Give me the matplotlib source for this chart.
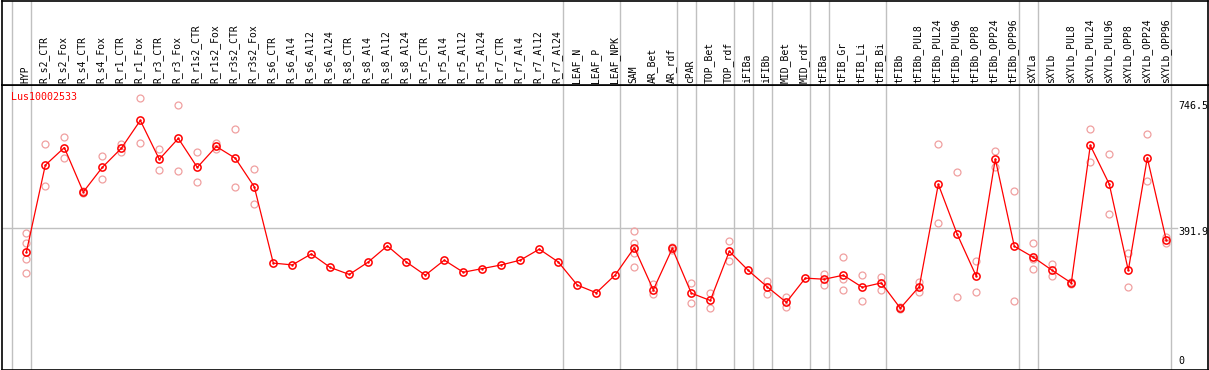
import matplotlib
matplotlib.use("Agg")
import matplotlib.pyplot as plt
import matplotlib.transforms as mtransforms

# column labels
samples = ["HYP", "R_s2_CTR", "R_s2_Fox", "R_s4_CTR", "R_s4_Fox", "R_r1_CTR", "R_r1_Fox",
           "R_r3_CTR", "R_r3_Fox", "R_r1s2_CTR", "R_r1s2_Fox", "R_r3s2_CTR", "R_r3s2_Fox",
           "R_s6_CTR", "R_s6_Al4", "R_s6_Al12", "R_s6_Al24", "R_s8_CTR", "R_s8_Al4",
           "R_s8_Al12", "R_s8_Al24", "R_r5_CTR", "R_r5_Al4", "R_r5_Al12", "R_r5_Al24",
           "R_r7_CTR", "R_r7_Al4", "R_r7_Al12", "R_r7_Al24", "LEAF_N", "LEAF_P", "LEAF_NPK",
           "SAM", "AR_Bet", "AR_rdf", "cPAR", "TOP_Bet", "TOP_rdf", "iFIBa", "iFIBb",
           "MID_Bet", "MID_rdf", "tFIBa", "tFIB_Gr", "tFIB_Li", "tFIB_Bi", "tFIBb",
           "tFIBb_PUL8", "tFIBb_PUL24", "tFIBb_PUL96", "tFIBb_OPP8", "tFIBb_OPP24",
           "tFIBb_OPP96", "sXYLa", "sXYLb", "sXYLb_PUL8", "sXYLb_PUL24", "sXYLb_PUL96",
           "sXYLb_OPP8", "sXYLb_OPP24", "sXYLb_OPP96"]

# mean expression per sample
means = [326, 564, 612, 491, 558, 610, 686, 580, 637, 558, 615, 583, 505,
         297, 292, 322, 285, 266, 300, 344, 300, 264, 305, 272, 282, 292, 305, 335, 300,
         237, 216, 265, 339, 224, 337, 215, 195, 329, 277, 232, 190, 256, 253, 264, 231,
         243, 174, 233, 512, 375, 261, 581, 343, 313, 277, 243, 618, 512, 277, 584, 359]

# replicate values (empty = no replicates shown)
replicates = [
    [378, 352, 307, 269], [621, 506], [641, 583], [488, 494], [588, 525], [621, 601],
    [746.5, 625], [607, 551], [728, 548], [599, 518], [625, 607], [662, 505], [554, 458],
    [], [], [], [], [], [], [], [], [], [], [], [], [], [], [], [],
    [], [], [],
    [384, 352, 324, 286], [239, 212], [341, 333], [243, 187], [216, 175], [356, 302],
    [], [247, 212], [204, 176], [], [267, 236], [314, 253, 223], [265, 194], [260, 224],
    [176, 172], [246, 219], [621, 406], [545, 204], [302, 217], [603, 558], [493, 193],
    [352, 280, 308], [294, 261], [246, 240], [662, 573], [595, 430], [324, 231],
    [649, 520], [367, 351],
]

# group separators (line drawn after these column indices)
separators = [-1, 0, 28, 31, 34, 35, 37, 38, 39, 41, 42, 45, 52, 53, 60]

gene = "Lus10002533"
ytick_values = [0, 391.9, 746.5]
ytick_labels = ["0", "391.9", "746.5"]

W, H = 1209, 370
fig = plt.figure(figsize=(W / 100, H / 100), dpi=100)

mono = "DejaVu Sans Mono"
grey = "#c0c0c0"
red = "#ff0000"
pink = "#f0a0a0"

# pixel -> column units: x_px = 26.3 + 19 * i
xlim = ((1.5 - 26.3) / 19, (1207.5 - 26.3) / 19)
# pixel -> value: y_px = 372 - 0.3667 * v
ylim = ((372 - 369.5) / 0.3667, (372 - 85) / 0.3667)

ax = fig.add_axes([1.5 / W, 0.5 / H, 1206 / W, 284.5 / H])
head = fig.add_axes([1.5 / W, 285 / H, 1206 / W, 84.5 / H], sharex=ax)

for a in (ax, head):
    a.set_xlim(*xlim)
    a.set_xticks([])
    a.set_yticks([])
    for s in a.spines.values():
        s.set_color("black")
        s.set_linewidth(1.2)
    for sep in separators:
        a.axvline(sep + 0.24, color=grey, lw=1, zorder=0)
ax.set_ylim(*ylim)

# column labels in the header
htrans = mtransforms.blended_transform_factory(head.transData, head.transAxes)
for i, lab in enumerate(samples):
    head.text(i - 0.06, 0.025, lab, rotation=90, ha="center", va="bottom",
              family=mono, fontsize=7, transform=htrans)

# reference line
ax.plot([xlim[0], (1177 - 26.3) / 19], [ytick_values[1]] * 2, color=grey, lw=1, zorder=0)

# replicates
for i, reps in enumerate(replicates):
    if reps:
        ax.plot([i] * len(reps), reps, "o", ms=5, mfc="none", mec=pink, mew=0.9,
                zorder=2, clip_on=False)

# mean line
xs = list(range(len(means)))
ax.plot(xs, means, "-", color=red, lw=0.9, zorder=3)
ax.plot(xs, means, "o", ms=5.2, mfc="none", mec=red, mew=1.1, zorder=4)
ax.plot(xs, means, ".", ms=1.5, color=red, zorder=4)

# value labels on the right
xr = (1178 - 26.3) / 19
ax.annotate(ytick_labels[2], (xr, ytick_values[2]), xytext=(0, -3), textcoords="offset pixels",
            ha="left", va="top", family=mono, fontsize=7.2, annotation_clip=False)
ax.annotate(ytick_labels[1], (xr, ytick_values[1]), xytext=(0, 1), textcoords="offset pixels",
            ha="left", va="top", family=mono, fontsize=7.2, annotation_clip=False)
ax.annotate(ytick_labels[0], (xr, ytick_values[0]), xytext=(0, 6), textcoords="offset pixels",
            ha="left", va="bottom", family=mono, fontsize=7.2, annotation_clip=False)

# gene name
ax.text(10 / 1206, 1 - 12 / 284.5, gene, transform=ax.transAxes, color=red,
        family=mono, fontsize=7.2, ha="left", va="center")

fig.savefig("out.png", dpi=100)
